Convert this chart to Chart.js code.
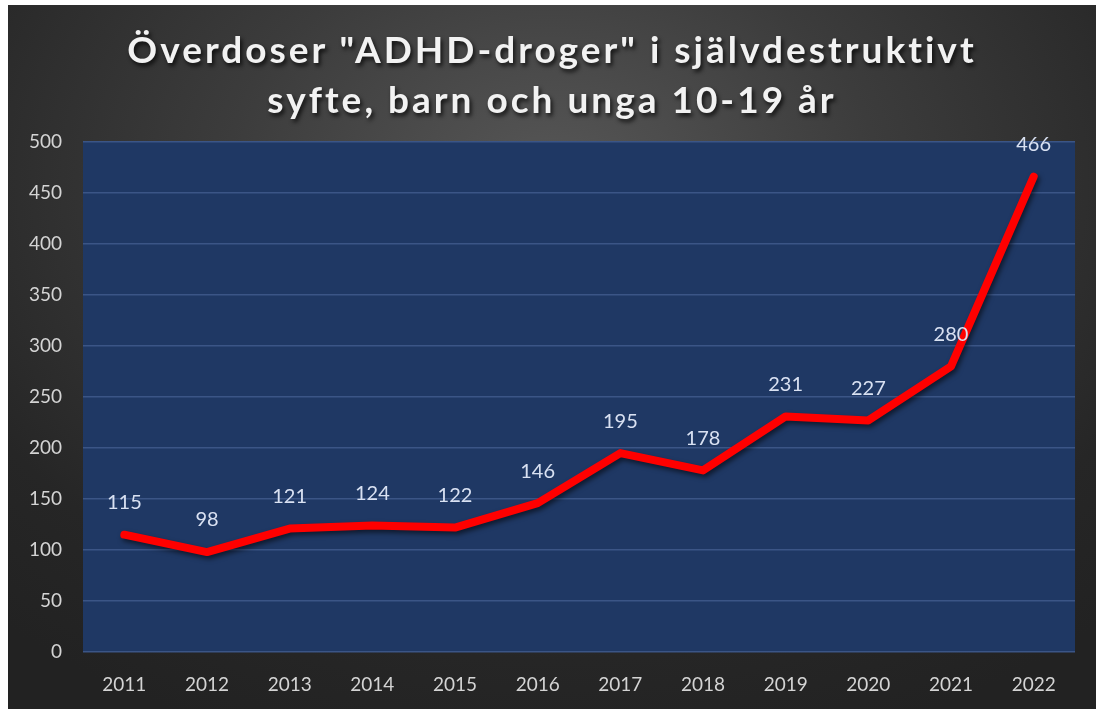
<!DOCTYPE html>
<html>
<head>
<meta charset="utf-8">
<script src="https://cdn.jsdelivr.net/npm/chart.js@4/dist/chart.umd.min.js"></script>
<style>
  html, body { margin: 0; padding: 0; background: #ffffff; }
  #wrap {
    position: absolute; left: 8px; top: 5px; width: 1088px; height: 704px;
    background: radial-gradient(ellipse 75% 85% at 50% 25%, #575757 0%, #3c3c3c 40%, #262626 80%, #222222 100%);
    overflow: hidden;
  }
  #title {
    position: absolute; left: 0; top: 19px; width: 100%; text-align: center;
    font-family: Lato, "Open Sans", sans-serif; font-weight: 700; font-size: 37px;
    line-height: 50px; letter-spacing: 3px; color: #f2f2f2;
    text-shadow: 2px 3px 4px rgba(0,0,0,0.75);
  }
  #c { position: absolute; left: 0; top: 0; }
</style>
</head>
<body>
<div id="wrap">
  <canvas id="c" width="1088" height="704"></canvas>
  <div id="title">Överdoser "ADHD-droger" i självdestruktivt<br>syfte, barn och unga 10-19 år</div>
</div>
<script>
const categories = ["2011","2012","2013","2014","2015","2016","2017","2018","2019","2020","2021","2022"];
const overdoses = [115, 98, 121, 124, 122, 146, 195, 178, 231, 227, 280, 466];
const yTicks = [0, 50, 100, 150, 200, 250, 300, 350, 400, 450, 500];

const plotBg = {
  id: 'plotBg',
  beforeDraw(chart) {
    const {ctx, chartArea: a} = chart;
    ctx.save();
    ctx.fillStyle = '#1f3864';
    ctx.fillRect(a.left, a.top, a.right - a.left, a.bottom - a.top);
    ctx.restore();
  }
};
const lineShadow = {
  id: 'lineShadow',
  beforeDatasetDraw(chart) {
    const ctx = chart.ctx;
    ctx.save();
    ctx.shadowColor = 'rgba(0,0,0,0.55)';
    ctx.shadowBlur = 5;
    ctx.shadowOffsetX = 2;
    ctx.shadowOffsetY = 3;
  },
  afterDatasetDraw(chart) { chart.ctx.restore(); }
};
const dataLabels = {
  id: 'dataLabels',
  afterDatasetsDraw(chart) {
    const ctx = chart.ctx;
    const meta = chart.getDatasetMeta(0);
    const data = chart.data.datasets[0].data;
    ctx.save();
    ctx.font = '20px Lato, "Open Sans", sans-serif';
    ctx.fillStyle = '#d9e1f2';
    ctx.textAlign = 'center';
    ctx.textBaseline = 'middle';
    meta.data.forEach((pt, i) => {
      ctx.fillText(String(data[i]), pt.x, pt.y - 32);
    });
    ctx.restore();
  }
};

new Chart(document.getElementById('c'), {
  type: 'line',
  data: {
    labels: categories,
    datasets: [{
      data: overdoses,
      borderColor: '#ff0000',
      borderWidth: 8,
      borderJoinStyle: 'round',
      borderCapStyle: 'round',
      tension: 0,
      pointRadius: 0,
      fill: false
    }]
  },
  options: {
    responsive: false,
    animation: false,
    layout: { padding: { top: 137, right: 21, bottom: 0, left: 0 } },
    plugins: { legend: { display: false }, tooltip: { enabled: false }, title: { display: false } },
    scales: {
      x: {
        offset: true,
        grid: { display: false, drawTicks: false },
        border: { display: false },
        ticks: { color: '#d4d4d4', font: { family: 'Lato, "Open Sans", sans-serif', size: 19 }, padding: 21, maxRotation: 0 },
        afterFit(s) { s.height = 57; }
      },
      y: {
        min: 0, max: 500,
        afterBuildTicks(s) { s.ticks = yTicks.map(v => ({ value: v })); },
        grid: { color: '#3b5586', lineWidth: 1.5, drawTicks: false },
        border: { display: false },
        ticks: { color: '#d4d4d4', font: { family: 'Lato, "Open Sans", sans-serif', size: 19 }, padding: 21 },
        afterFit(s) { s.width = 75; }
      }
    }
  },
  plugins: [plotBg, lineShadow, dataLabels]
});
</script>
</body>
</html>
